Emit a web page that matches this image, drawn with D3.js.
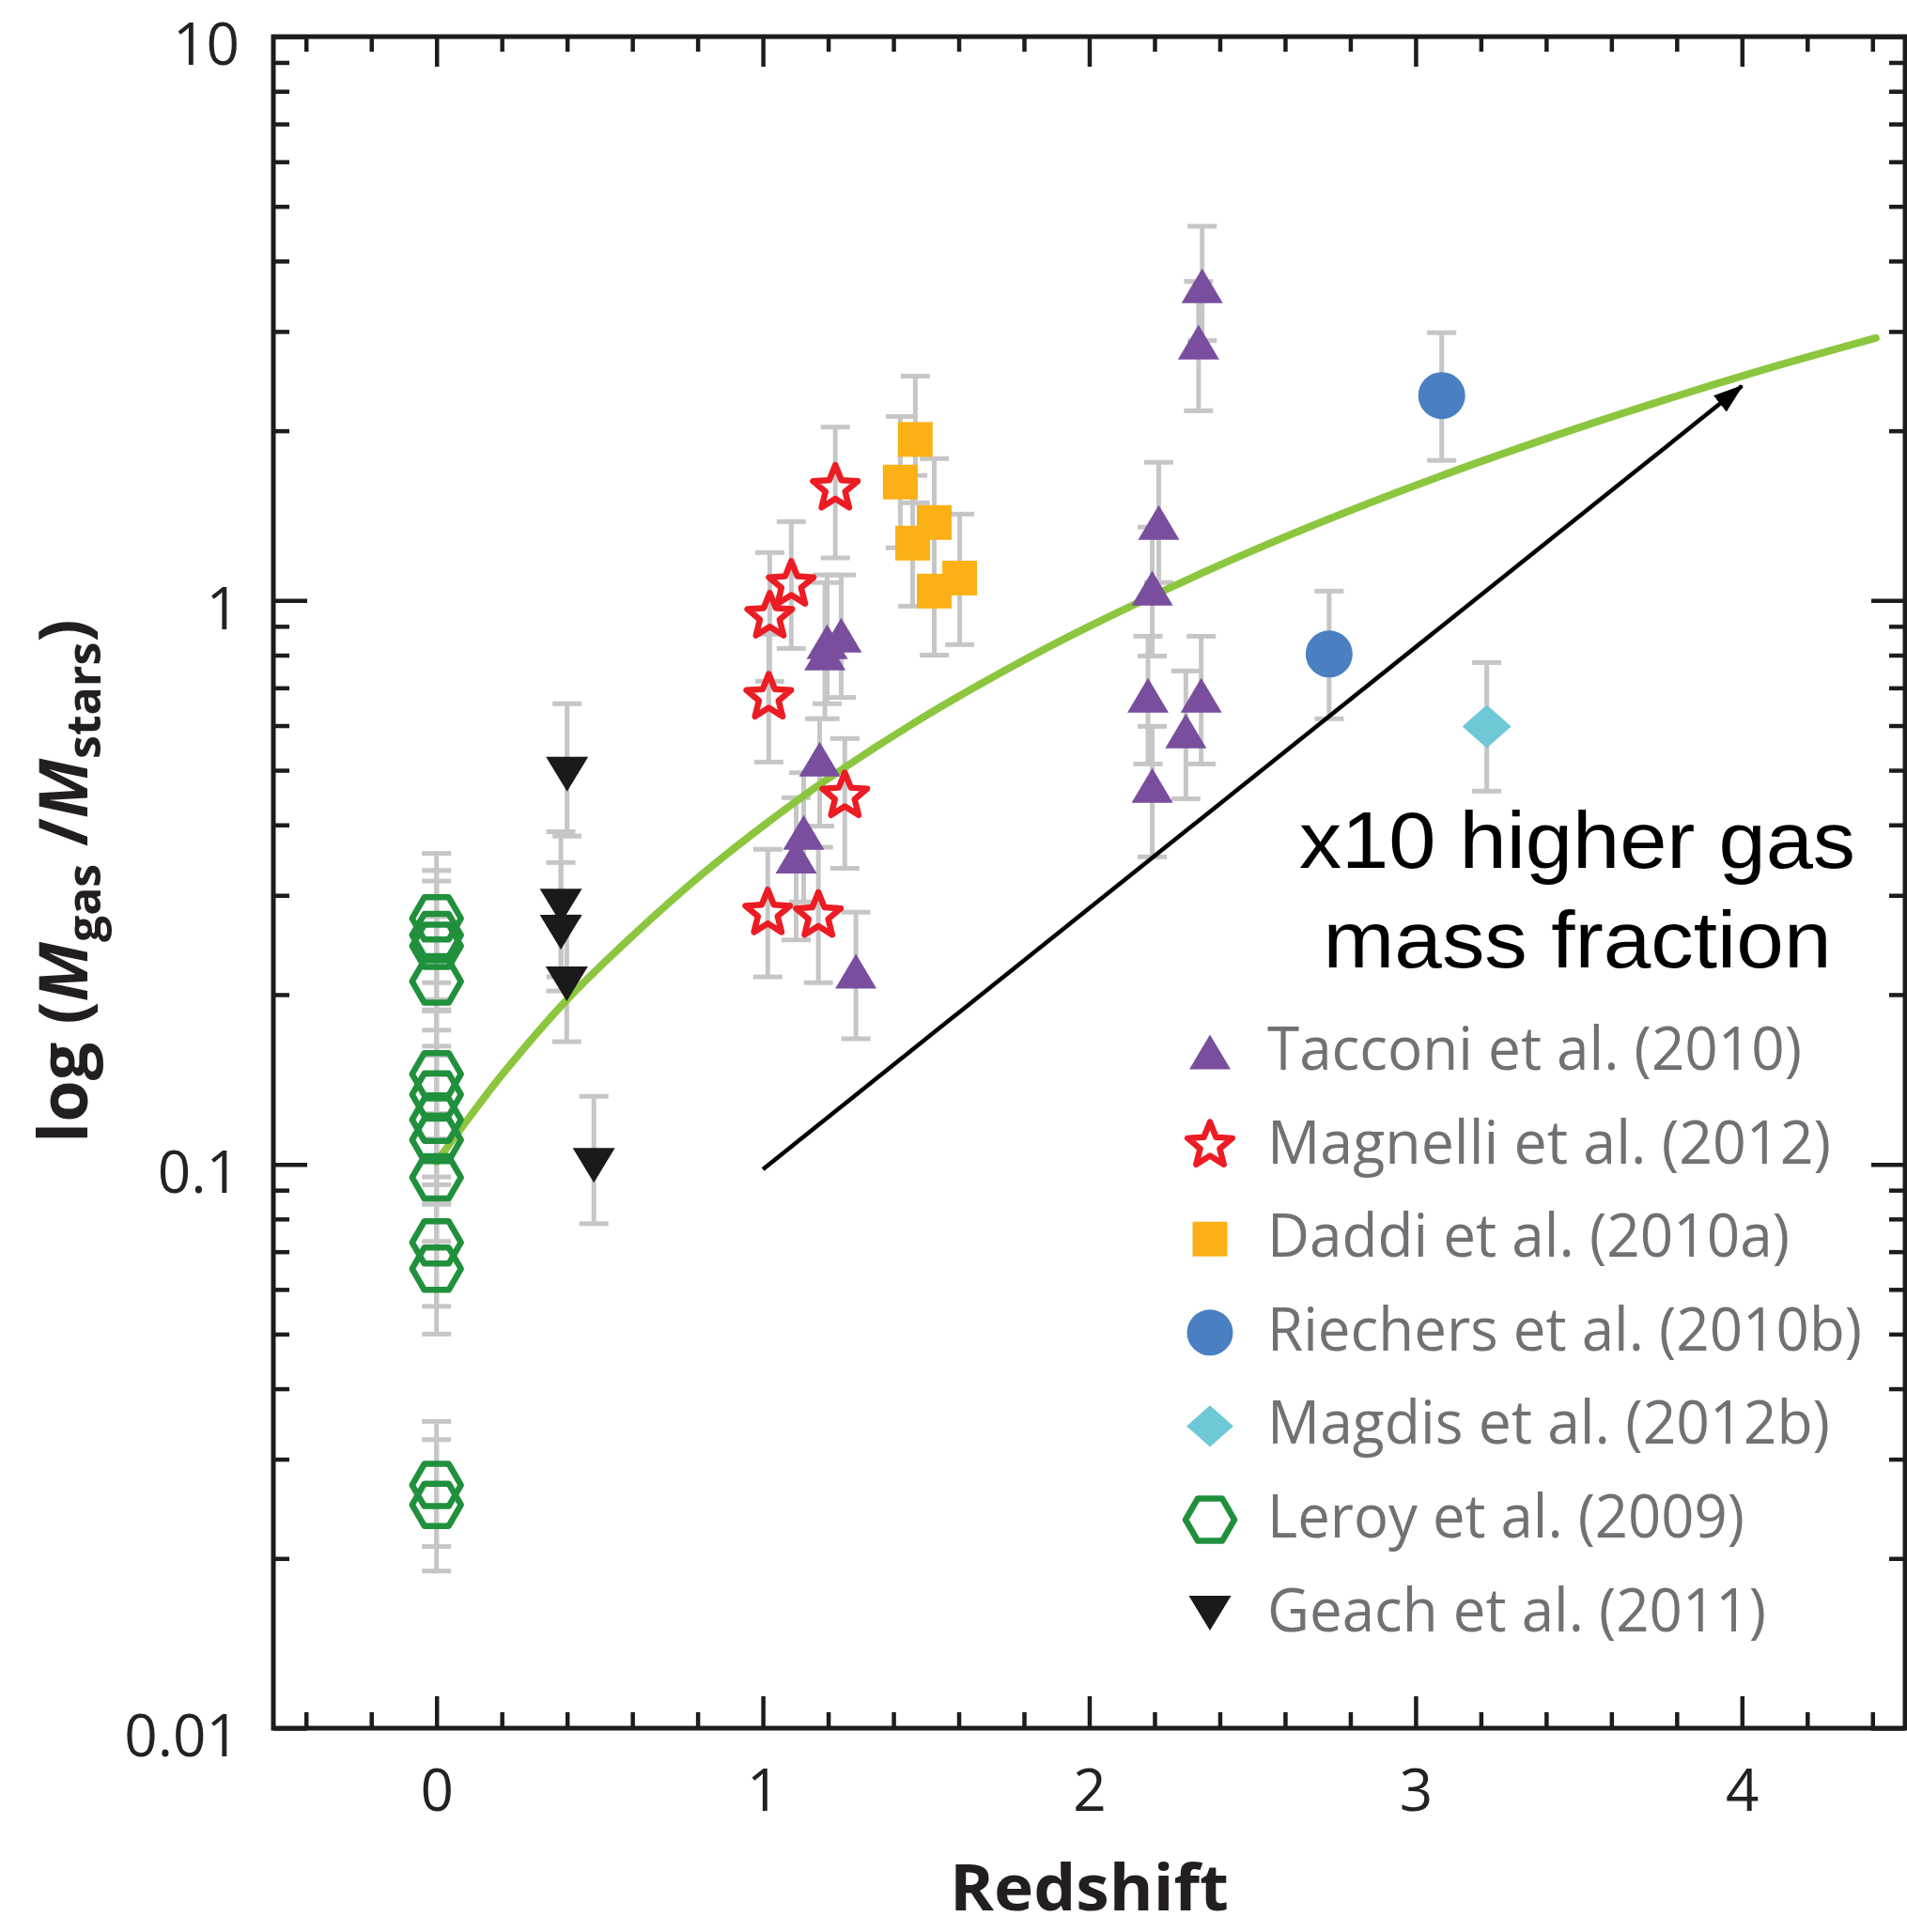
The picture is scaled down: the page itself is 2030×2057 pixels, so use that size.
<!DOCTYPE html>
<html><head><meta charset="utf-8">
<script src="https://cdn.jsdelivr.net/npm/d3@7"></script>
<style>html,body{margin:0;padding:0;background:#fff;} svg{display:block;}</style>
</head><body>
<svg id="chart" width="2030" height="2057"></svg>
<script>
// ---------------- DATA ----------------
const xTickValues = [0, 1, 2, 3, 4];
const xTickLabels = ["0", "1", "2", "3", "4"];
const yTickValues = [0.01, 0.1, 1, 10];
const yTickLabels = ["0.01", "0.1", "1", "10"];

// each point: [redshift, Mgas/Mstars, lower error, upper error]
const tacconi = [
  [1.197, 0.845, 0.656, 1.11], [1.24, 0.868, 0.673, 1.11], [1.19, 0.807, 0.617, 1.076],
  [1.174, 0.523, 0.398, 0.617], [1.125, 0.388, 0.292, 0.495], [1.102, 0.352, 0.25, 0.447],
  [1.285, 0.22, 0.167, 0.28],
  [2.213, 1.375, 1.076, 1.758], [2.193, 1.051, 0.797, 1.349], [2.18, 0.679, 0.513, 0.864],
  [2.343, 0.679, 0.513, 0.864], [2.296, 0.587, 0.445, 0.75], [2.193, 0.47, 0.351, 0.598],
  [2.346, 3.617, 2.89, 4.61], [2.335, 2.873, 2.17, 3.68]
];
const magnelli = [
  [1.222, 1.58, 1.19, 2.03], [1.087, 1.067, 0.822, 1.38], [1.021, 0.937, 0.719, 1.216],
  [1.018, 0.673, 0.517, 0.871], [1.251, 0.45, 0.335, 0.569], [1.015, 0.279, 0.215, 0.362],
  [1.17, 0.276, 0.21, 0.365]
];
const daddi = [
  [1.467, 1.93, 1.49, 2.5], [1.421, 1.622, 1.24, 2.12], [1.525, 1.375, 1.055, 1.785],
  [1.459, 1.264, 0.977, 1.666], [1.603, 1.096, 0.835, 1.423], [1.525, 1.039, 0.8, 1.354]
];
const riechers = [
  [3.08, 2.309, 1.772, 2.985], [2.735, 0.8035, 0.617, 1.039]
];
const magdis = [
  [3.218, 0.598, 0.459, 0.776]
];
const leroy = [
  [0, 0.273, 0.21, 0.356], [0, 0.255, 0.196, 0.332], [0, 0.244, 0.187, 0.318],
  [0, 0.211, 0.162, 0.275], [0, 0.1445, 0.111, 0.188], [0, 0.133, 0.102, 0.173],
  [0, 0.12, 0.092, 0.156], [0, 0.1105, 0.085, 0.144], [0, 0.0948, 0.073, 0.123],
  [0, 0.0727, 0.056, 0.095], [0, 0.0653, 0.05, 0.085], [0, 0.027, 0.021, 0.035],
  [0, 0.0249, 0.019, 0.0325]
];
const geach = [
  [0.40, 0.492, 0.382, 0.656], [0.381, 0.287, 0.215, 0.389], [0.381, 0.258, 0.203, 0.343],
  [0.399, 0.209, 0.165, 0.275], [0.482, 0.0996, 0.0785, 0.132]
];

// model curve
const modelZ = [0.0, 0.1, 0.2, 0.4, 0.6, 0.8, 1.0, 1.2, 1.5, 1.8, 2.0, 2.5, 3.0, 3.5, 4.0, 4.41];
const modelV = [0.101, 0.121, 0.144, 0.196, 0.254, 0.322, 0.398, 0.483, 0.625, 0.784, 0.9, 1.225, 1.6, 2.025, 2.5, 2.92];

// annotation arrow
const arrowZ = [1.0, 4.0];
const arrowV = [0.098, 2.4];
const annotationLines = ["x10 higher gas", "mass fraction"];

const legendLabels = [
  "Tacconi et al. (2010)", "Magnelli et al. (2012)", "Daddi et al. (2010a)",
  "Riechers et al. (2010b)", "Magdis et al. (2012b)", "Leroy et al. (2009)", "Geach et al. (2011)"
];
const xTitle = "Redshift";

// ---------------- STYLE / LAYOUT ----------------
const svg = d3.select("#chart");
const x = d3.scaleLinear().domain([-0.5, 4.5]).range([291, 2028]);
const y = d3.scaleLog().domain([0.01, 10]).range([1840, 39]);
const [X0, X1] = x.range();
const [Y1, Y0] = y.range();
const ink = "#1c1c1c";

const series = [
  { data: tacconi, shape: "triUp", color: "#7a4e9e" },
  { data: magnelli, shape: "star", color: "#ec1c24" },
  { data: daddi, shape: "square", color: "#fbb116" },
  { data: riechers, shape: "circle", color: "#4a80c2" },
  { data: magdis, shape: "diamond", color: "#6fc8d6" },
  { data: leroy, shape: "hexagon", color: "#20903c" },
  { data: geach, shape: "triDown", color: "#1a1a1a" }
];

function starPath(R, r) {
  const pts = [];
  for (let i = 0; i < 10; i++) {
    const a = -Math.PI / 2 + i * Math.PI / 5;
    const rr = i % 2 === 0 ? R : r;
    pts.push([rr * Math.cos(a), rr * Math.sin(a)]);
  }
  return "M" + pts.map(p => p.join(",")).join("L") + "Z";
}
function hexPath(R) {
  const pts = d3.range(6).map(i => [R * Math.cos(i * Math.PI / 3), R * Math.sin(i * Math.PI / 3)]);
  return "M" + pts.map(p => p.join(",")).join("L") + "Z";
}
function drawMarker(g, shape, color, cx, cy, scale = 1) {
  const s = scale;
  let el;
  switch (shape) {
    case "triUp":
      el = g.append("path").attr("d", `M0,${-18.5*s}L${22*s},${18.5*s}L${-22*s},${18.5*s}Z`).attr("fill", color); break;
    case "triDown":
      el = g.append("path").attr("d", `M${-22.5*s},${-18.5*s}L${22.5*s},${-18.5*s}L0,${18.5*s}Z`).attr("fill", color); break;
    case "square":
      el = g.append("rect").attr("x", -18.5*s).attr("y", -18.5*s).attr("width", 37*s).attr("height", 37*s).attr("fill", color); break;
    case "circle":
      el = g.append("circle").attr("r", 25*s).attr("fill", color); break;
    case "diamond":
      el = g.append("path").attr("d", `M0,${-23*s}L${26*s},0L0,${23*s}L${-26*s},0Z`).attr("fill", color); break;
    case "star":
      el = g.append("path").attr("d", starPath(25*s, 11*s)).attr("fill", "none")
        .attr("stroke", color).attr("stroke-width", 6.5).attr("stroke-linejoin", "round"); break;
    case "hexagon":
      el = g.append("path").attr("d", hexPath(26*s)).attr("fill", "none")
        .attr("stroke", color).attr("stroke-width", 6.5).attr("stroke-linejoin", "round"); break;
  }
  el.attr("transform", `translate(${cx},${cy})`);
}

// ---------------- AXES ----------------
const minorX = d3.range(-4, 45, 2).map(d => d / 10).filter(d => Math.abs(d - Math.round(d)) > 1e-6);
const minorY = [0.01, 0.1, 1].flatMap(d => d3.range(2, 10).map(k => +(d * k).toPrecision(3)));

function styleTicks(g) {
  g.select(".domain").remove();
  g.selectAll(".tick line").attr("stroke", ink).attr("stroke-width", 4.5);
  g.attr("font-family", null).attr("font-size", null);
}
const tickFont = "'Open Sans', 'DejaVu Sans', sans-serif";

// bottom
svg.append("g").attr("transform", `translate(0,${Y1})`)
  .call(d3.axisBottom(x).tickValues(minorX).tickFormat("").tickSizeInner(-17).tickSizeOuter(0)).call(styleTicks);
const bx = svg.append("g").attr("transform", `translate(0,${Y1})`)
  .call(d3.axisBottom(x).tickValues(xTickValues).tickFormat((d, i) => xTickLabels[i])
    .tickSizeInner(-34).tickSizeOuter(0).tickPadding(44)).call(styleTicks);
bx.selectAll("text").attr("font-family", tickFont).attr("font-size", 62).attr("fill", "#222");
// top
svg.append("g").attr("transform", `translate(0,${Y0})`)
  .call(d3.axisTop(x).tickValues(minorX).tickFormat("").tickSizeInner(-16).tickSizeOuter(0)).call(styleTicks);
svg.append("g").attr("transform", `translate(0,${Y0})`)
  .call(d3.axisTop(x).tickValues(xTickValues).tickFormat("").tickSizeInner(-32).tickSizeOuter(0)).call(styleTicks);
// left
svg.append("g").attr("transform", `translate(${X0},0)`)
  .call(d3.axisLeft(y).tickValues(minorY).tickFormat("").tickSizeInner(-17).tickSizeOuter(0)).call(styleTicks);
const ly = svg.append("g").attr("transform", `translate(${X0},0)`)
  .call(d3.axisLeft(y).tickValues(yTickValues).tickFormat((d, i) => yTickLabels[i])
    .tickSizeInner(-36).tickSizeOuter(0).tickPadding(36)).call(styleTicks);
ly.selectAll("text").attr("font-family", tickFont).attr("font-size", 62).attr("fill", "#222").attr("dy", "0.48em");
// right
svg.append("g").attr("transform", `translate(${X1},0)`)
  .call(d3.axisRight(y).tickValues(minorY).tickFormat("").tickSizeInner(-17).tickSizeOuter(0)).call(styleTicks);
svg.append("g").attr("transform", `translate(${X1},0)`)
  .call(d3.axisRight(y).tickValues(yTickValues).tickFormat("").tickSizeInner(-36).tickSizeOuter(0)).call(styleTicks);

// frame
svg.append("rect").attr("x", X0).attr("y", Y0).attr("width", X1 - X0).attr("height", Y1 - Y0)
  .attr("fill", "none").attr("stroke", ink).attr("stroke-width", 5);

// axis titles
svg.append("text").attr("x", x(2)).attr("y", 2034).attr("text-anchor", "middle")
  .attr("font-family", tickFont).attr("font-weight", 700).attr("font-size", 68).attr("fill", "#231f20")
  .attr("textLength", 297).attr("lengthAdjust", "spacingAndGlyphs").text(xTitle);

const yl = svg.append("text").attr("transform", "translate(93,938) rotate(-90)").attr("text-anchor", "middle")
  .attr("font-family", tickFont).attr("font-weight", 700).attr("font-size", 72).attr("fill", "#231f20");
yl.append("tspan").text("log (");
yl.append("tspan").attr("font-style", "italic").text("M");
yl.append("tspan").attr("font-size", 50).attr("dy", 14).text("gas");
yl.append("tspan").attr("dy", -14).text(" /");
yl.append("tspan").attr("font-style", "italic").text("M");
yl.append("tspan").attr("font-size", 50).attr("dy", 14).text("stars");
yl.append("tspan").attr("dy", -14).text(")");

// ---------------- ERROR BARS ----------------
const eg = svg.append("g").attr("stroke", "#c6c6c6").attr("stroke-width", 5);
series.forEach(s => {
  s.data.forEach(d => {
    const cx = x(d[0]);
    eg.append("line").attr("x1", cx).attr("x2", cx).attr("y1", y(d[2])).attr("y2", y(d[3]));
    eg.append("line").attr("x1", cx - 15.5).attr("x2", cx + 15.5).attr("y1", y(d[2])).attr("y2", y(d[2]));
    eg.append("line").attr("x1", cx - 15.5).attr("x2", cx + 15.5).attr("y1", y(d[3])).attr("y2", y(d[3]));
  });
});

// ---------------- MODEL CURVE ----------------
const modelPts = modelZ.map((z, i) => [z, modelV[i]]);
svg.append("path").datum(modelPts)
  .attr("d", d3.line().x(d => x(d[0])).y(d => y(d[1])).curve(d3.curveCatmullRom.alpha(0.5)))
  .attr("fill", "none").attr("stroke", "#8cc63f").attr("stroke-width", 8).attr("stroke-linecap", "round");

// ---------------- MARKERS ----------------
const mg = svg.append("g");
series.forEach(s => {
  s.data.forEach(d => drawMarker(mg, s.shape, s.color, x(d[0]), y(d[1])));
});

// ---------------- ARROW ----------------
const defs = svg.append("defs");
defs.append("marker").attr("id", "ahead").attr("markerUnits", "userSpaceOnUse")
  .attr("markerWidth", 40).attr("markerHeight", 40).attr("refX", 30).attr("refY", 11)
  .attr("orient", "auto")
  .append("path").attr("d", "M0,0L32,11L0,22Z").attr("fill", "#000");
svg.append("line")
  .attr("x1", x(arrowZ[0])).attr("y1", y(arrowV[0]))
  .attr("x2", x(arrowZ[1])).attr("y2", y(arrowV[1]))
  .attr("stroke", "#000").attr("stroke-width", 4.5).attr("marker-end", "url(#ahead)");

// ---------------- ANNOTATION ----------------
const annFont = "'Liberation Sans', Arial, Helvetica, sans-serif";
const annBase = [924, 1030];
const annLen = [592, 541];
annotationLines.forEach((t, i) => {
  svg.append("text").attr("x", 1679).attr("y", annBase[i]).attr("text-anchor", "middle")
    .attr("font-family", annFont).attr("font-size", 86).attr("fill", "#000")
    .attr("textLength", annLen[i]).attr("lengthAdjust", "spacingAndGlyphs").text(t);
});

// ---------------- LEGEND ----------------
const legWidths = [569, 600, 556, 633, 599, 508, 531];
const lg = svg.append("g");
legendLabels.forEach((lab, i) => {
  const ry = 1120 + i * 99.6;
  const s = series[i];
  drawMarker(lg, s.shape, s.color, 1288, ry, s.shape === "circle" ? 0.98 : (s.shape === "diamond" ? 0.96 : 1));
  lg.append("text").attr("x", 1349).attr("y", ry + 19)
    .attr("font-family", tickFont).attr("font-size", 64).attr("fill", "#707174")
    .attr("textLength", legWidths[i]).attr("lengthAdjust", "spacingAndGlyphs").text(lab);
});
</script>
</body></html>
